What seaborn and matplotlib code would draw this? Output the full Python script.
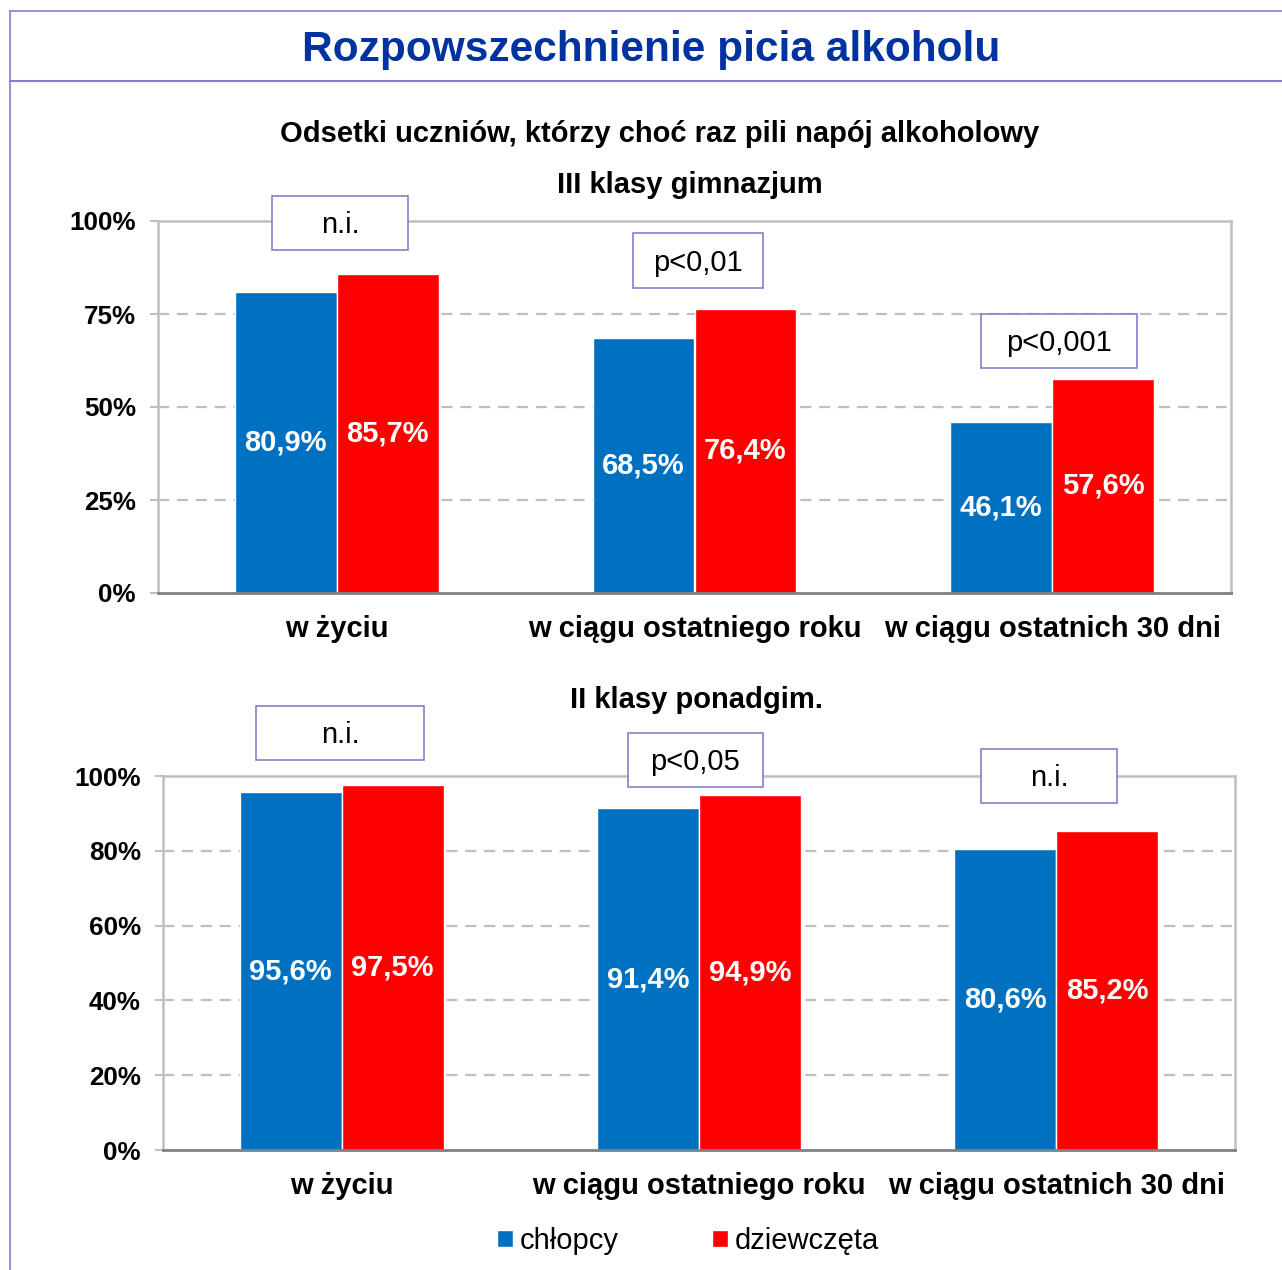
import matplotlib
matplotlib.use('Agg')
import matplotlib.pyplot as plt
import pandas as pd
import seaborn as sns
from matplotlib.lines import Line2D
from matplotlib.patches import Patch, Rectangle
from matplotlib.ticker import FixedLocator


# --- data ---
categories = ['w życiu', 'w ciągu ostatniego roku', 'w ciągu ostatnich 30 dni']
genders = ['chłopcy', 'dziewczęta']

gim_boys = [80.9, 68.5, 46.1]
gim_girls = [85.7, 76.4, 57.6]
gim_signif = ['n.i.', 'p<0,01', 'p<0,001']

pon_boys = [95.6, 91.4, 80.6]
pon_girls = [97.5, 94.9, 85.2]
pon_signif = ['n.i.', 'p<0,05', 'n.i.']

BLUE = '#0070C0'
RED = '#FF0000'
GRID = '#BFBFBF'
FRAME = '#8080C8'
TITLE_BLUE = '#0033A0'


def make_df(boys, girls):
    rows = []
    for cat, b, g in zip(categories, boys, girls):
        rows.append({'kategoria': cat, 'plec': genders[0], 'odsetek': b})
        rows.append({'kategoria': cat, 'plec': genders[1], 'odsetek': g})
    return pd.DataFrame(rows)


def fmt_pct(v):
    return f'{v:.1f}%'.replace('.', ',')


def draw_panel(ax, df, yticks):
    sns.barplot(data=df, x='kategoria', y='odsetek', hue='plec',
                palette=[BLUE, RED], saturation=1, width=0.57, gap=0,
                ax=ax, legend=False, errorbar=None)
    ax.set_xlim(-0.5, 2.5)
    ax.set_ylim(0, 100)
    ax.set_yticks(yticks)
    ax.set_yticklabels([f'{t}%' for t in yticks], fontsize=18.7, fontweight='bold')
    ax.set_xticks(range(len(categories)))
    ax.set_xticklabels(categories, fontsize=21, fontweight='bold')
    ax.tick_params(axis='x', which='major', length=0, pad=16, labelcolor='black')
    ax.xaxis.set_minor_locator(FixedLocator([-0.5, 0.5, 1.5, 2.5]))
    ax.tick_params(axis='x', which='minor', length=7, width=2, color='#808080', direction='out')
    ax.tick_params(axis='y', length=6, width=1.5, color=GRID, direction='out', left=True,
                   pad=10, labelcolor='black')
    ax.set_xlabel('')
    ax.set_ylabel('')
    for t in yticks[1:-1]:
        ax.axhline(t, color=GRID, lw=1.6, ls=(0, (5, 3.5)), zorder=0)
    for side in ['left', 'right', 'top']:
        ax.spines[side].set_visible(True)
        ax.spines[side].set_color(GRID)
        ax.spines[side].set_linewidth(1.8)
    ax.spines['bottom'].set_color('#808080')
    ax.spines['bottom'].set_linewidth(2)
    ax.grid(False)
    for cont in ax.containers:
        labels = [fmt_pct(b.get_height()) for b in cont]
        ax.bar_label(cont, labels=labels, label_type='center', color='white',
                     fontsize=21, fontweight='bold')


sns.set_theme(style='white')
plt.rcParams['font.family'] = ['Liberation Sans', 'DejaVu Sans']
plt.rcParams['text.color'] = 'black'

W, H = 1282, 1270
fig = plt.figure(figsize=(W / 100, H / 100), dpi=100)


def fx(px):
    return px / W


def fy(py):
    return 1 - py / H


ax1 = fig.add_axes([fx(158), fy(593), fx(1231) - fx(158), fy(221) - fy(593)])
ax2 = fig.add_axes([fx(163), fy(1150), fx(1235) - fx(163), fy(776) - fy(1150)])

draw_panel(ax1, make_df(gim_boys, gim_girls), [0, 25, 50, 75, 100])
draw_panel(ax2, make_df(pon_boys, pon_girls), [0, 20, 40, 60, 80, 100])

# significance boxes (pixel centre x, centre y, width, height)
boxes = [
    (gim_signif[0], 340, 223, 136, 54),
    (gim_signif[1], 698, 261, 130, 55),
    (gim_signif[2], 1059, 341, 156, 54),
    (pon_signif[0], 340, 733, 168, 54),
    (pon_signif[1], 695, 760, 135, 54),
    (pon_signif[2], 1049, 776, 136, 54),
]
for label, cx, cy, bw, bh in boxes:
    fig.add_artist(Rectangle((fx(cx - bw / 2), fy(cy + bh / 2)), bw / W, bh / H,
                             transform=fig.transFigure, facecolor='white',
                             edgecolor=FRAME, lw=1.2, zorder=5))
    fig.text(fx(cx), fy(cy + 2), label, ha='center', va='center', fontsize=21,
             color='black', zorder=6)

# frame lines
fig.add_artist(Line2D([fx(10), 1], [fy(11), fy(11)], color=FRAME, lw=1.2))
fig.add_artist(Line2D([fx(10), 1], [fy(81), fy(81)], color=FRAME, lw=1.5))
fig.add_artist(Line2D([fx(10), fx(10)], [fy(11), 0], color=FRAME, lw=1.2))

fig.text(fx(651), fy(50), 'Rozpowszechnienie picia alkoholu', ha='center', va='center',
         fontsize=30.5, fontweight='bold', color=TITLE_BLUE)
fig.text(fx(660), fy(134), 'Odsetki uczniów, którzy choć raz pili napój alkoholowy',
         ha='center', va='center', fontsize=21, fontweight='bold', color='black')
fig.text(fx(690), fy(185), 'III klasy gimnazjum', ha='center', va='center',
         fontsize=21, fontweight='bold', color='black')
fig.text(fx(697), fy(700), 'II klasy ponadgim.', ha='center', va='center',
         fontsize=21, fontweight='bold', color='black')

handles = [Patch(facecolor=BLUE, label=genders[0]), Patch(facecolor=RED, label=genders[1])]
fig.legend(handles=handles, loc='center', bbox_to_anchor=(fx(688), fy(1241)), ncol=2,
           frameon=False, fontsize=21, handlelength=0.55, handleheight=0.55,
           handletextpad=0.22, columnspacing=3.2)

fig.savefig('out.png', dpi=100)
